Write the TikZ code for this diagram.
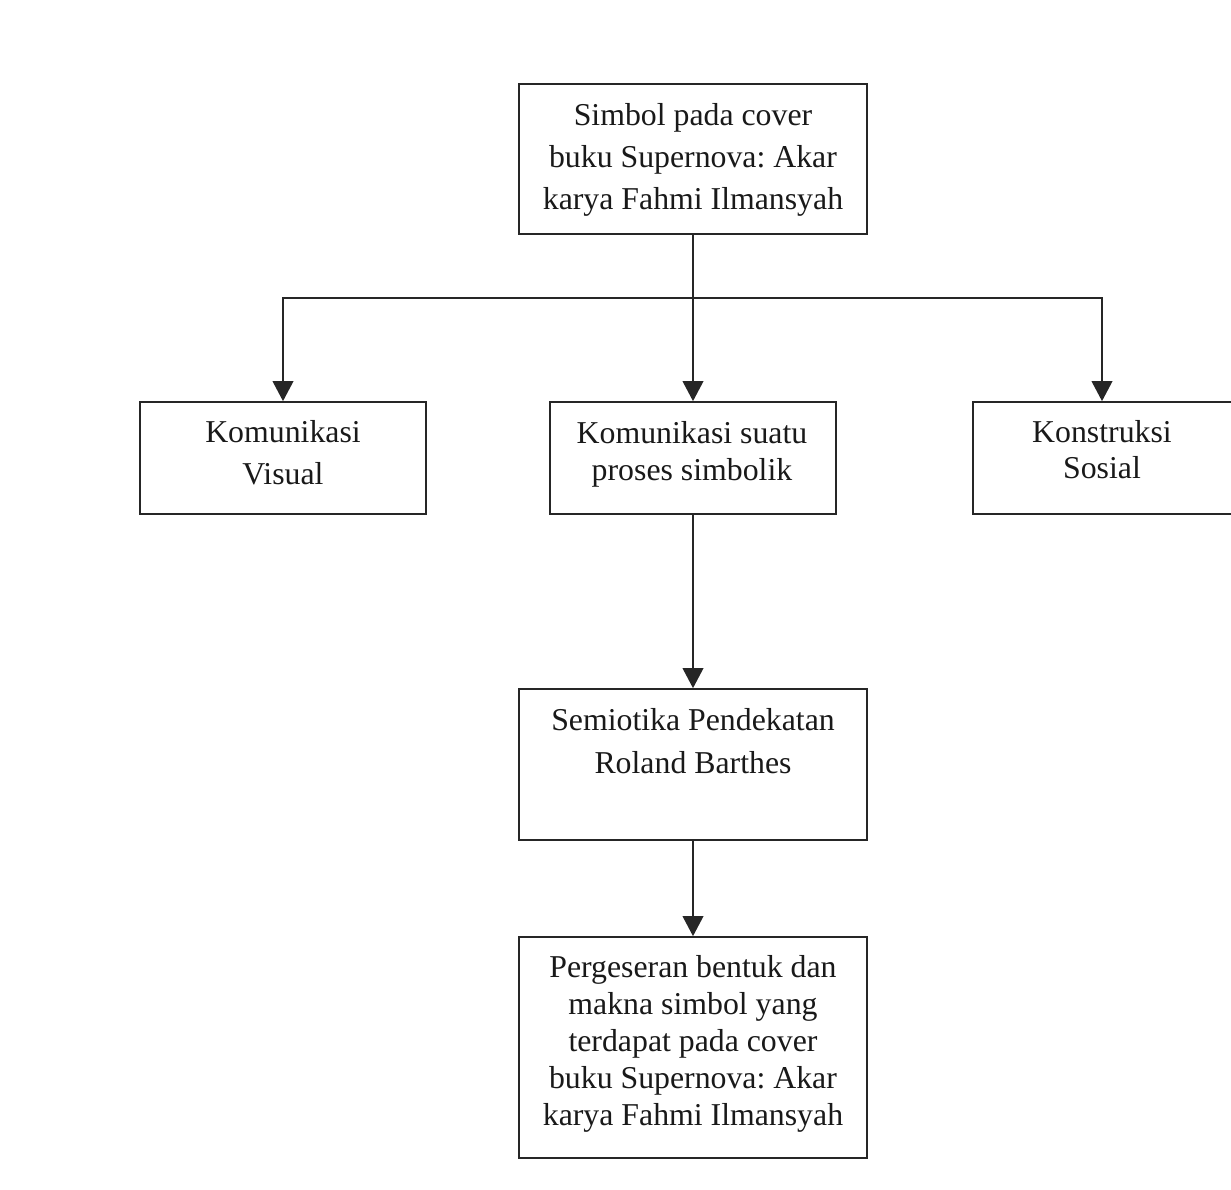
\documentclass[tikz,border=0pt]{standalone}
\usepackage{fontspec}
\setmainfont{Liberation Serif}
\usetikzlibrary{arrows.meta}
\frenchspacing
\begin{document}
\begin{tikzpicture}[x=0.75pt,y=-0.75pt,
  box/.style={draw=black!85, line width=1.3pt, inner sep=0pt, fill=none},
  txt/.style={align=center, inner sep=0pt, anchor=base, text=black!90},
  conn/.style={draw=black!85, line width=1.3pt},
  arr/.style={conn, -{Triangle[length=15pt,width=15.5pt]}}]
\useasboundingbox (0,0) rectangle (1231,1189);
% boxes
\node[box, minimum width=261pt, minimum height=112.5pt] (top) at (693,159) {};
\node[box, minimum width=214.5pt, minimum height=84pt] (left) at (283,458) {};
\node[box, minimum width=214.5pt, minimum height=84pt] (mid) at (693,458) {};
\node[box, minimum width=195pt, minimum height=84pt] (right) at (1103,458) {};
\node[box, minimum width=261pt, minimum height=113.25pt] (semi) at (693,764.5) {};
\node[box, minimum width=261pt, minimum height=165.75pt] (res) at (693,1047.5) {};
% texts (anchor=base is the baseline of the last line)
\node[txt, font=\fontsize{23.85}{31.5}\selectfont] (ttop) at (693,209) {Simbol pada cover\\buku Supernova: Akar\\karya Fahmi Ilmansyah};
\node[txt, font=\fontsize{23.85}{31.5}\selectfont] (tleft) at (283,484) {Komunikasi\\Visual};
\node[txt, font=\fontsize{23.85}{27.75}\selectfont] (tmid) at (692,480) {Komunikasi suatu\\proses simbolik};
\node[txt, font=\fontsize{23.85}{27}\selectfont] (tright) at (1102,478) {Konstruksi\\Sosial};
\node[txt, font=\fontsize{23.85}{32.25}\selectfont] (tsemi) at (693,773) {Semiotika Pendekatan\\Roland Barthes};
\node[txt, font=\fontsize{23.85}{27.75}\selectfont] (tres) at (693,1125) {Pergeseran bentuk dan\\makna simbol yang\\terdapat pada cover\\buku Supernova: Akar\\karya Fahmi Ilmansyah};
% connectors
\coordinate (split) at (693,298);
\coordinate (lturn) at (283,298);
\coordinate (rturn) at (1102,298);
\draw[conn] (top.south) -- (split);
\draw[arr] (split) -- (mid.north);
\draw[arr] (split) -- (lturn) -- (left.north);
\draw[arr] (split) -- (rturn) -- (rturn |- right.north);
\draw[arr] (mid.south) -- (semi.north);
\draw[arr] (semi.south) -- (res.north);
\end{tikzpicture}
\end{document}
